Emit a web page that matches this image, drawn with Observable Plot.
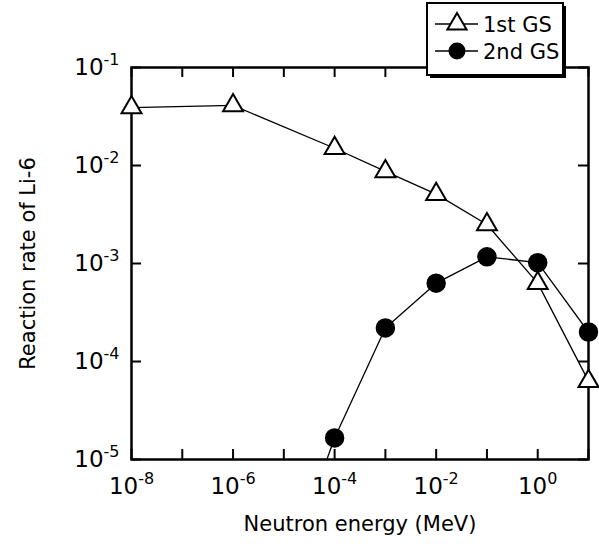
<!DOCTYPE html>
<html>
<head>
<meta charset="utf-8">
<script src="https://cdn.jsdelivr.net/npm/d3@7"></script>
<script src="https://cdn.jsdelivr.net/npm/@observablehq/plot@0.6"></script>
<style>
  html, body { margin: 0; padding: 0; background: white; }
  #wrap { position: relative; width: 599px; height: 548px; }
  #legend { position: absolute; left: 0; top: 0; pointer-events: none; }
</style>
</head>
<body>
<div id="wrap"></div>
<script>
// ---- data ----
const energy1 = [1e-8, 1e-6, 1e-4, 1e-3, 1e-2, 1e-1, 1, 10];
const rate1   = [0.039, 0.041, 0.015, 0.0087, 0.0051, 0.0025, 6.3e-4, 6.3e-5];
const energy2 = [1e-5, 1e-4, 1e-3, 1e-2, 1e-1, 1, 10];
const rate2   = [6e-7, 1.66e-5, 2.2e-4, 6.3e-4, 1.17e-3, 1.02e-3, 2.0e-4];
const seriesNames = ["1st GS", "2nd GS"];
const xDecades = [1e-8, 1e-7, 1e-6, 1e-5, 1e-4, 1e-3, 1e-2, 1e-1, 1, 10];
const xLabelTicks = [1e-8, 1e-6, 1e-4, 1e-2, 1];
const yDecades = [1e-5, 1e-4, 1e-3, 1e-2, 1e-1];
const xTitle = "Neutron energy (MeV)";
const yTitle = "Reaction rate of Li-6";

const s1 = energy1.map((e, i) => ({x: e, y: rate1[i]}));
const s2 = energy2.map((e, i) => ({x: e, y: rate2[i]}));

const W = 599, H = 548;
const mL = 131, mR = 11, mT = 67, mB = 89;
const plotW = W - mL - mR, plotH = H - mT - mB;
const tickLen = 10;
const font = "DejaVu Sans";
const expFmt = d => "10^" + Math.round(Math.log10(d));

const chart = Plot.plot({
  width: W, height: H,
  marginLeft: mL, marginRight: mR, marginTop: mT, marginBottom: mB,
  x: {type: "log", domain: [1e-8, 10], label: null},
  y: {type: "log", domain: [1e-5, 1e-1], label: null},
  style: {fontFamily: font, background: "white", color: "black"},
  marks: [
    Plot.ruleX(xDecades, {x: d => d, insetTop: plotH - tickLen, stroke: "black", strokeWidth: 2}),
    Plot.ruleX(xDecades, {x: d => d, insetBottom: plotH - tickLen, stroke: "black", strokeWidth: 2}),
    Plot.ruleY(yDecades, {y: d => d, insetRight: plotW - tickLen, stroke: "black", strokeWidth: 2}),
    Plot.ruleY(yDecades, {y: d => d, insetLeft: plotW - tickLen, stroke: "black", strokeWidth: 2}),
    Plot.frame({stroke: "black", strokeWidth: 2.5}),
    Plot.axisX({ticks: xLabelTicks, tickSize: 0, tickPadding: 18, tickFormat: expFmt, fontSize: 23, label: null}),
    Plot.axisY({ticks: yDecades, tickSize: 0, tickPadding: 12, tickFormat: expFmt, fontSize: 23, label: null}),
    Plot.line(s1, {x: "x", y: "y", stroke: "black", strokeWidth: 1.3}),
    Plot.line(s2, {x: "x", y: "y", stroke: "black", strokeWidth: 1.3, clip: true}),
    Plot.dot(s1, {x: "x", y: "y", symbol: "triangle", r: 7.4, fill: "white", stroke: "black", strokeWidth: 2}),
    Plot.dot(s2, {x: "x", y: "y", filter: d => d.y >= 1e-5, symbol: "circle", r: 9, fill: "black", stroke: "black"}),
    Plot.text([xTitle], {frameAnchor: "bottom", dy: 71, fontSize: 21, fill: "black"}),
    Plot.text([yTitle], {frameAnchor: "left", dx: -103, rotate: -90, textAnchor: "middle", fontSize: 21, fill: "black"})
  ]
});

// superscript exponents in tick labels
d3.select(chart).selectAll("text").each(function() {
  const t = this.textContent;
  const m = /^10\^(-?\d+)$/.exec(t);
  if (!m) return;
  const sel = d3.select(this);
  sel.text("");
  sel.append("tspan").text("10");
  sel.append("tspan").attr("font-size", 16).attr("dy", -10).text(m[1]);
});

const wrap = document.getElementById("wrap");
wrap.appendChild(chart);

// legend overlay
const lg = d3.select(wrap).append("svg").attr("id", "legend")
  .attr("width", W).attr("height", H);
const bx = 427, by = 3, bw = 136, bh = 72;
lg.append("rect").attr("x", bx + 3).attr("y", by + 3).attr("width", bw).attr("height", bh).attr("fill", "black");
lg.append("rect").attr("x", bx).attr("y", by).attr("width", bw).attr("height", bh)
  .attr("fill", "white").attr("stroke", "black").attr("stroke-width", 2);
seriesNames.forEach((name, i) => {
  const cy = by + 21 + i * 27;
  lg.append("line").attr("x1", bx + 8).attr("x2", bx + 51).attr("y1", cy).attr("y2", cy)
    .attr("stroke", "black").attr("stroke-width", 1.3);
  if (i === 0) {
    lg.append("path").attr("d", d3.symbol(d3.symbolTriangle, 160)())
      .attr("transform", `translate(${bx + 30},${cy})`)
      .attr("fill", "white").attr("stroke", "black").attr("stroke-width", 2);
  } else {
    lg.append("circle").attr("cx", bx + 30).attr("cy", cy).attr("r", 8.5).attr("fill", "black");
  }
  lg.append("text").attr("x", bx + 56).attr("y", cy).attr("dy", "0.36em")
    .attr("font-family", font).attr("font-size", 21).attr("fill", "black").text(name);
});
</script>
</body>
</html>
